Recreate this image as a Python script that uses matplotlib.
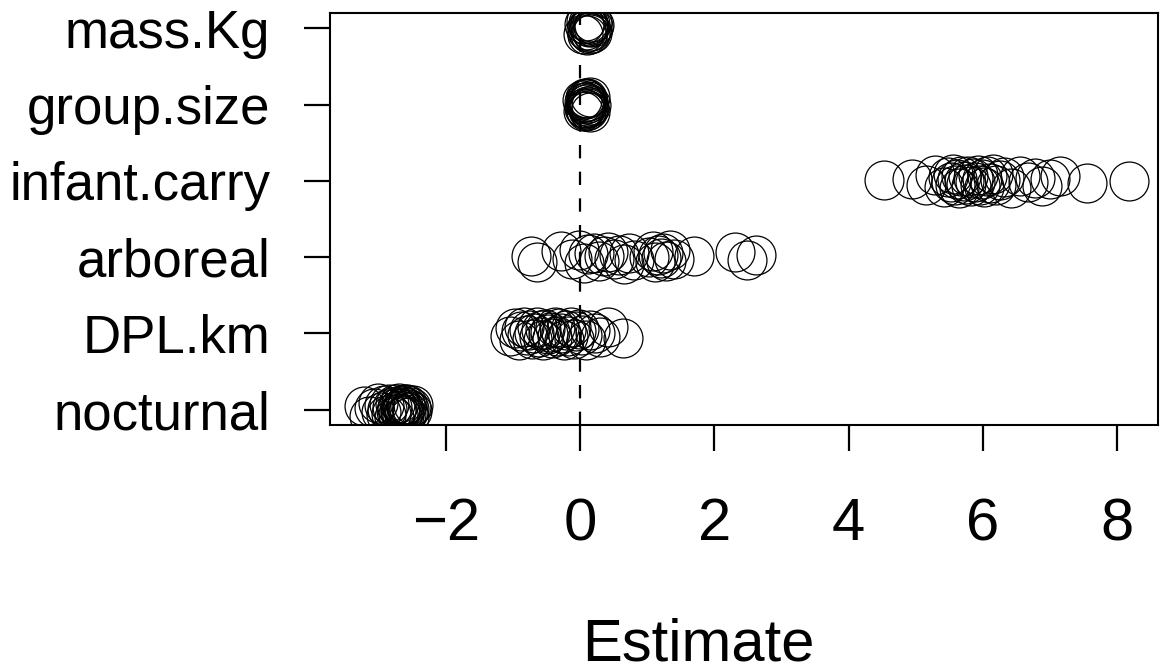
import matplotlib
matplotlib.use('Agg')
import matplotlib.pyplot as plt

# Row labels, bottom to top
labels = ['nocturnal', 'DPL.km', 'arboreal', 'infant.carry', 'group.size', 'mass.Kg']

# Estimates per predictor
nocturnal = [-3.23, -3.15, -3.08, -3.02, -2.97, -2.93, -2.90, -2.88, -2.85, -2.82,
             -2.80, -2.78, -2.76, -2.75, -2.73, -2.72, -2.70, -2.69, -2.68, -2.67,
             -2.66, -2.65, -2.64, -2.63, -2.62, -2.61, -2.60, -2.59, -2.58, -2.57,
             -2.56, -2.55, -2.53, -2.51, -2.49]
nocturnal_dy = [0.05, -0.08, 0.02, 0.09, -0.03, 0.06, -0.07, 0.01, 0.08, -0.05,
                0.03, -0.09, 0.07, -0.02, 0.04, -0.06, 0.09, 0.00, -0.04, 0.06,
                -0.08, 0.02, 0.05, -0.01, -0.07, 0.08, 0.03, -0.05, 0.07, -0.03,
                0.01, -0.09, 0.04, -0.02, 0.06]

dpl_km = [-1.04, -0.97, -0.92, -0.88, -0.84, -0.80, -0.76, -0.72, -0.69, -0.65,
          -0.62, -0.58, -0.55, -0.52, -0.48, -0.45, -0.42, -0.38, -0.35, -0.31,
          -0.28, -0.25, -0.21, -0.18, -0.14, -0.10, -0.06, -0.02, 0.03, 0.08,
          0.15, 0.22, 0.30, 0.42, 0.63]
dpl_km_dy = [-0.04, 0.07, -0.09, 0.03, 0.08, -0.02, 0.05, -0.07, 0.01, 0.09,
             -0.05, 0.04, -0.08, 0.06, -0.01, 0.02, -0.06, 0.08, -0.03, 0.07,
             0.00, -0.09, 0.05, -0.04, 0.09, -0.07, 0.03, 0.06, -0.02, -0.08,
             0.04, 0.01, -0.05, 0.08, -0.06]

arboreal = [-0.74, -0.65, -0.28, -0.12, -0.02, 0.05, 0.12, 0.20, 0.28, 0.35,
            0.42, 0.50, 0.58, 0.65, 0.72, 0.80, 1.02, 1.08, 1.12, 1.16,
            1.20, 1.24, 1.28, 1.33, 1.40, 1.70, 2.30, 2.48, 2.62]
arboreal_dy = [0.02, -0.06, 0.08, -0.03, 0.09, -0.08, 0.04, 0.06, -0.05, 0.01,
               0.07, -0.02, 0.03, -0.09, 0.05, -0.04, 0.00, 0.08, -0.07, 0.03,
               -0.01, 0.06, -0.05, 0.09, -0.03, 0.01, 0.07, -0.04, 0.03]

infant_carry = [4.52, 4.94, 5.15, 5.28, 5.42, 5.48, 5.52, 5.55, 5.58, 5.62,
                5.65, 5.68, 5.72, 5.75, 5.78, 5.82, 5.85, 5.88, 5.92, 5.95,
                5.98, 6.02, 6.06, 6.10, 6.15, 6.20, 6.25, 6.32, 6.42, 6.55,
                6.68, 6.78, 6.88, 7.00, 7.15, 7.55, 8.18]
infant_carry_dy = [0.01, 0.03, -0.05, 0.08, -0.08, 0.05, -0.02, 0.09, -0.06, 0.02,
                   -0.09, 0.06, 0.00, -0.04, 0.07, -0.07, 0.04, -0.01, 0.08, -0.05,
                   0.03, -0.08, 0.06, -0.03, 0.09, -0.06, 0.01, 0.05, -0.09, 0.07,
                   -0.02, 0.04, -0.07, 0.02, 0.06, -0.03, 0.00]

group_size = [0.02, 0.04, 0.05, 0.06, 0.07, 0.07, 0.08, 0.08, 0.09, 0.09,
              0.10, 0.10, 0.11, 0.11, 0.12, 0.12, 0.13, 0.14, 0.15, 0.16]
group_size_dy = [0.06, -0.08, 0.03, -0.04, 0.09, -0.06, 0.01, 0.07, -0.09, 0.04,
                 -0.02, 0.08, -0.05, 0.02, -0.07, 0.05, -0.03, 0.10, -0.10, 0.00]

mass_kg = [0.04, 0.06, 0.08, 0.09, 0.10, 0.11, 0.12, 0.12, 0.13, 0.14,
           0.15, 0.16, 0.17, 0.18, 0.19, 0.20]
mass_kg_dy = [-0.07, 0.05, -0.02, 0.09, -0.09, 0.03, 0.07, -0.05, 0.01, -0.08,
              0.06, -0.03, 0.08, -0.06, 0.02, 0.04]

x_ticks = [-2, 0, 2, 4, 6, 8]

rows = [(nocturnal, nocturnal_dy), (dpl_km, dpl_km_dy), (arboreal, arboreal_dy),
        (infant_carry, infant_carry_dy), (group_size, group_size_dy), (mass_kg, mass_kg_dy)]

plt.rcParams['font.family'] = ['Liberation Sans', 'DejaVu Sans']

fig = plt.figure(figsize=(11.61, 6.71), dpi=100)
ax = fig.add_axes([330 / 1161, 1 - 425 / 671, (1158 - 330) / 1161, (425 - 13) / 671])

for i, (xs, dys) in enumerate(rows):
    ys = [i + 1 + d for d in dys]
    ax.plot(xs, ys, linestyle='none', marker='o', markersize=28,
            markerfacecolor='none', markeredgecolor='black', markeredgewidth=0.9)

# dashed reference line at zero
ax.axvline(0, color='black', linewidth=1.6, dashes=(6, 6))

ax.set_xlim(-3.73, 8.61)
ax.set_ylim(0.8, 6.2)
ax.set_xticks(x_ticks)
ax.set_yticks(range(1, len(labels) + 1))
ax.set_yticklabels(labels)
ax.tick_params(width=1.6, length=19)
ax.tick_params(axis='x', labelsize=43, pad=33)
ax.tick_params(axis='y', labelsize=38, pad=24)
for s in ax.spines.values():
    s.set_linewidth(1.5)

fig.text(698 / 1161, 1 - 645 / 671, 'Estimate', fontsize=43, ha='center', va='center')

fig.savefig('out.png', dpi=100)
